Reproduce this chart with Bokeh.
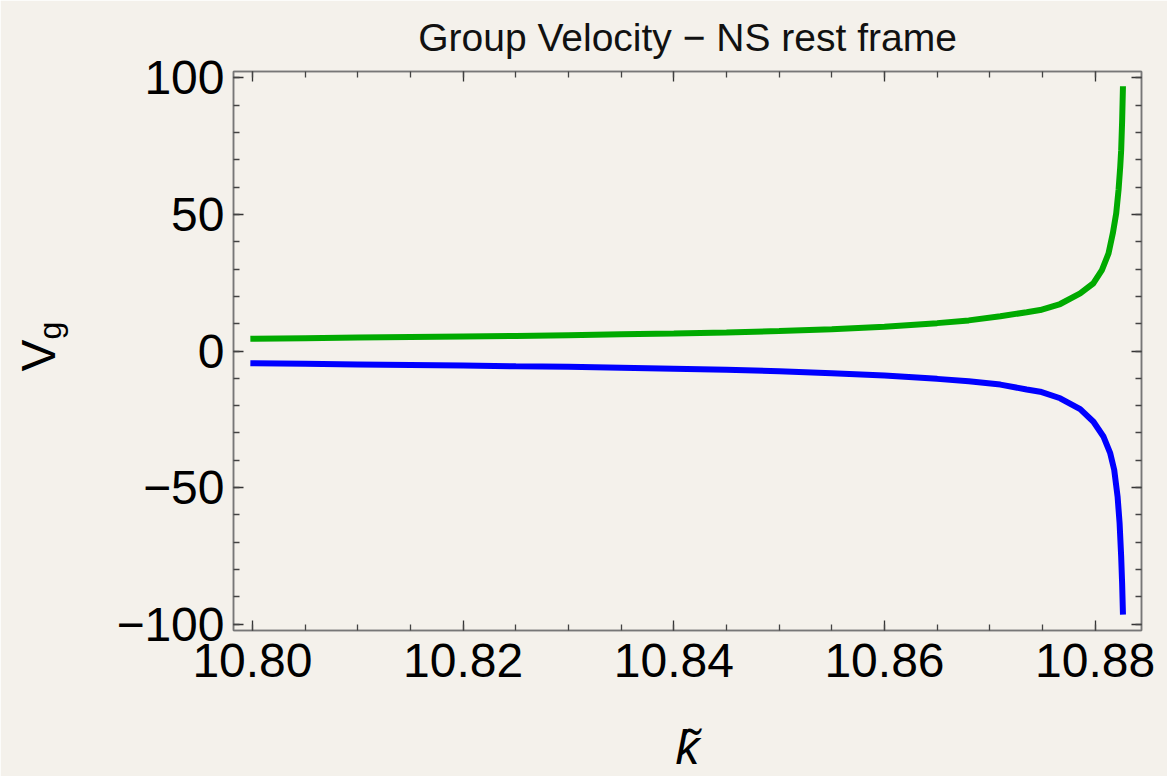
import numpy as np
from math import pi
from bokeh.plotting import figure
from bokeh.models import LinearAxis, FixedTicker, Range1d, Label
from bokeh.embed import file_html
from bokeh.resources import INLINE

# ---- data ----
K_GREEN = [10.7998, 10.805, 10.810, 10.815, 10.820, 10.825, 10.830, 10.835, 10.840, 10.845,
           10.850, 10.855, 10.860, 10.865, 10.868, 10.871, 10.8735, 10.87478, 10.87668,
           10.87858, 10.87984, 10.88064, 10.88127, 10.88168, 10.88200, 10.88222, 10.88238,
           10.88247, 10.88256, 10.88264]
V_GREEN = [4.5, 4.7, 4.9, 5.1, 5.3, 5.5, 5.8, 6.1, 6.4, 6.8,
           7.3, 8.0, 8.9, 10.2, 11.2, 12.7, 14.2, 15.0, 17.2,
           21.1, 24.8, 29.6, 35.7, 43.1, 50.4, 58.9, 67.4,
           73.5, 84.0, 96.9]
K_BLUE = [10.7998, 10.805, 10.810, 10.815, 10.820, 10.825, 10.830, 10.835, 10.840, 10.845,
          10.850, 10.855, 10.860, 10.865, 10.868, 10.871, 10.8735, 10.87478, 10.87668,
          10.87858, 10.87984, 10.88080, 10.88143, 10.88181, 10.88213, 10.88232, 10.88247,
          10.88256, 10.88264]
V_BLUE = [-4.5, -4.7, -4.9, -5.1, -5.3, -5.6, -5.8, -6.1, -6.5, -6.9,
          -7.4, -8.1, -9.0, -10.2, -11.1, -12.3, -14.1, -14.9, -17.3,
          -21.3, -25.9, -31.4, -37.4, -43.5, -53.3, -63.0, -75.3,
          -85.0, -96.5]

X_TICKS = [10.80, 10.82, 10.84, 10.86, 10.88]
X_TICK_LABELS = ["10.80", "10.82", "10.84", "10.86", "10.88"]
Y_TICKS = [-100, -50, 0, 50, 100]
Y_TICK_LABELS = ["\u2212100", "\u221250", "0", "50", "100"]

TITLE = "Group Velocity \u2212 NS rest frame"
X_LABEL = "k\u0303"
Y_LABEL_MAIN = "V"
Y_LABEL_SUB = "g"

BG = "#f4f1eb"
FONT = "Liberation Sans"
FRAME = "#777777"

X_START, X_END = 10.7982, 10.8844
Y_START, Y_END = -102.3, 102.3

p = figure(width=1167, height=776, output_backend="svg", toolbar_location=None,
           x_range=Range1d(X_START, X_END), y_range=Range1d(Y_START, Y_END),
           min_border_left=233, min_border_right=26, min_border_top=71, min_border_bottom=145,
           background_fill_color=BG, border_fill_color=BG, outline_line_color=FRAME,
           outline_line_width=1.5)
p.xgrid.visible = False
p.ygrid.visible = False

bottom_ax = p.below[0]
left_ax = p.left[0]

x_minor = [round(v, 4) for v in np.arange(10.795, 10.8851, 0.005)]
y_minor = list(range(-100, 101, 10))

p.line(K_GREEN, V_GREEN, line_color="#00aa00", line_width=6)
p.line(K_BLUE, V_BLUE, line_color="#0000ff", line_width=6)

top_ax = LinearAxis()
right_ax = LinearAxis()
p.add_layout(top_ax, "above")
p.add_layout(right_ax, "right")

for ax in [bottom_ax, top_ax]:
    ax.ticker = FixedTicker(ticks=X_TICKS, minor_ticks=x_minor)
for ax in [left_ax, right_ax]:
    ax.ticker = FixedTicker(ticks=Y_TICKS, minor_ticks=y_minor)

for ax in [bottom_ax, left_ax, top_ax, right_ax]:
    ax.axis_line_color = FRAME
    ax.axis_line_width = 1.5
    ax.major_tick_in = 10
    ax.major_tick_out = 0
    ax.minor_tick_in = 6
    ax.minor_tick_out = 0
    ax.major_tick_line_color = "#333333"
    ax.minor_tick_line_color = "#444444"
    ax.major_tick_line_width = 1.3
    ax.minor_tick_line_width = 1.3
    ax.major_label_text_font = FONT
    ax.major_label_text_font_size = "48px"
    ax.major_label_text_color = "black"

for ax in [top_ax, right_ax]:
    ax.major_label_text_color = None
    ax.major_label_text_font_size = "0px"
    ax.major_label_standoff = 0

bottom_ax.major_label_overrides = dict(zip(X_TICKS, X_TICK_LABELS))
left_ax.major_label_overrides = dict(zip(Y_TICKS, Y_TICK_LABELS))
bottom_ax.major_label_standoff = 13
left_ax.major_label_standoff = 9

bottom_ax.axis_label = X_LABEL
bottom_ax.axis_label_text_font = FONT
bottom_ax.axis_label_text_font_style = "italic"
bottom_ax.axis_label_text_font_size = "48px"
bottom_ax.axis_label_text_color = "black"
bottom_ax.axis_label_standoff = 41

p.title.text = TITLE
p.title.text_font = FONT
p.title.text_font_size = "39px"
p.title.text_font_style = "normal"
p.title.text_color = "#111111"
p.title.align = "center"
p.title.vertical_align = "top"
p.title.standoff = 22

# y-axis label V_g, drawn in the left side panel (outside the frame)
p.add_layout(Label(x=-22, y=275, x_units="screen", y_units="screen", text=Y_LABEL_MAIN,
                   angle=pi / 2, text_align="center", text_baseline="middle",
                   text_font=FONT, text_font_size="48px", text_color="black"), "left")
p.add_layout(Label(x=25, y=300, x_units="screen", y_units="screen", text=Y_LABEL_SUB,
                   angle=pi / 2, text_align="center", text_baseline="middle",
                   text_font=FONT, text_font_size="32px", text_color="black"), "left")

open("out.html", "w").write(file_html(p, INLINE))
